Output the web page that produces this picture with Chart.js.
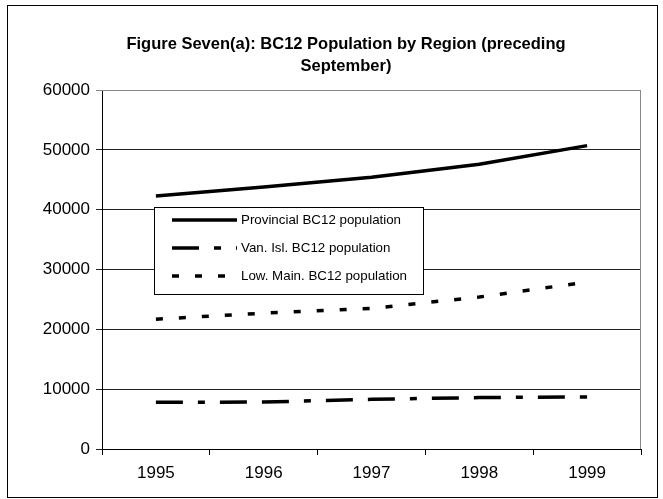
<!DOCTYPE html>
<html>
<head>
<meta charset="utf-8">
<script src="https://cdn.jsdelivr.net/npm/chart.js@4.4.1/dist/chart.umd.min.js"></script>
<style>
  html, body { margin: 0; padding: 0; background: #fff; }
  canvas { display: block; }
</style>
</head>
<body>
<canvas id="chart" width="663" height="499"></canvas>
<script>
const years = ["1995", "1996", "1997", "1998", "1999"];
const provincial = [42300, 43800, 45400, 47600, 50700];
const vanIsl = [7800, 7850, 8300, 8600, 8700];
const lowMain = [21700, 22700, 23500, 25400, 27900];
const yTicks = [0, 10000, 20000, 30000, 40000, 50000, 60000];
const titleLines = ["Figure Seven(a): BC12 Population by Region (preceding", "September)"];

// title, outer frame, plot frame and the boxed legend
const decorations = {
  id: "decorations",
  beforeDraw(chart) {
    const ctx = chart.ctx;
    ctx.save();
    ctx.fillStyle = "#fff";
    ctx.fillRect(0, 0, chart.width, chart.height);
    ctx.strokeStyle = "#000";
    ctx.lineWidth = 1;
    ctx.strokeRect(7.5, 5.5, 650, 492);
    ctx.fillStyle = "#000";
    ctx.font = "bold 16.5px 'Liberation Sans', Arial, sans-serif";
    ctx.textAlign = "center";
    ctx.textBaseline = "middle";
    ctx.fillText(titleLines[0], 346, 44);
    ctx.fillText(titleLines[1], 346, 66);
    ctx.restore();
  },
  afterDatasetsDraw(chart) {
    const ctx = chart.ctx;
    const a = chart.chartArea;
    ctx.save();
    ctx.strokeStyle = "#888";
    ctx.lineWidth = 1;
    ctx.beginPath();
    ctx.moveTo(a.left, a.top + 0.5);
    ctx.lineTo(a.right - 0.5, a.top + 0.5);
    ctx.lineTo(a.right - 0.5, a.bottom);
    ctx.stroke();

    // legend box
    ctx.fillStyle = "#fff";
    ctx.fillRect(154, 207, 269, 87);
    ctx.strokeStyle = "#000";
    ctx.strokeRect(154.5, 207.5, 269, 87);
    const rows = [220, 248, 276];
    ctx.font = "13.33px 'Liberation Sans', Arial, sans-serif";
    ctx.textBaseline = "middle";
    ctx.textAlign = "left";
    chart.data.datasets.forEach((ds, i) => {
      const y = rows[i];
      ctx.strokeStyle = ds.borderColor;
      ctx.lineWidth = ds.borderWidth;
      ctx.setLineDash(ds.borderDash || []);
      ctx.beginPath();
      ctx.moveTo(172, y);
      ctx.lineTo(237, y);
      ctx.stroke();
      ctx.setLineDash([]);
      ctx.fillStyle = "#000";
      ctx.fillText(ds.label, 241, y);
    });
    ctx.restore();
  }
};

new Chart(document.getElementById("chart"), {
  type: "line",
  data: {
    labels: years,
    datasets: [
      { label: "Provincial BC12 population", data: provincial, borderColor: "#000", borderWidth: 3.5, pointRadius: 0, tension: 0 },
      { label: "Van. Isl. BC12 population", data: vanIsl, borderColor: "#000", borderWidth: 3.5, borderDash: [27, 15, 7, 15, 27, 15], pointRadius: 0, tension: 0 },
      { label: "Low. Main. BC12 population", data: lowMain, borderColor: "#000", borderWidth: 3.5, borderDash: [7, 16], pointRadius: 0, tension: 0 }
    ]
  },
  options: {
    responsive: false,
    animation: false,
    devicePixelRatio: 1,
    layout: { padding: { left: 0, top: 90, right: 22, bottom: 0 } },
    plugins: {
      legend: { display: false },
      title: { display: false },
      tooltip: { enabled: false }
    },
    scales: {
      x: {
        type: "category",
        offset: true,
        afterFit: s => { s.height = 50; },
        grid: { offset: true, drawOnChartArea: false, tickLength: 6, color: "#000" },
        border: { color: "#000", width: 1 },
        ticks: { color: "#000", padding: 8, font: { family: "'Liberation Sans', Arial, sans-serif", size: 17 } }
      },
      y: {
        min: 0,
        max: 60000,
        afterFit: s => { s.width = 102; },
        afterBuildTicks: s => { s.ticks = yTicks.map(v => ({ value: v })); },
        grid: { color: ctx => ctx.tick && ctx.tick.value === 60000 ? "#888" : "#222", lineWidth: 1, tickLength: 6 },
        border: { color: "#000", width: 1 },
        ticks: { color: "#000", padding: 6, font: { family: "'Liberation Sans', Arial, sans-serif", size: 17 }, callback: v => String(v) }
      }
    }
  },
  plugins: [decorations]
});
</script>
</body>
</html>
